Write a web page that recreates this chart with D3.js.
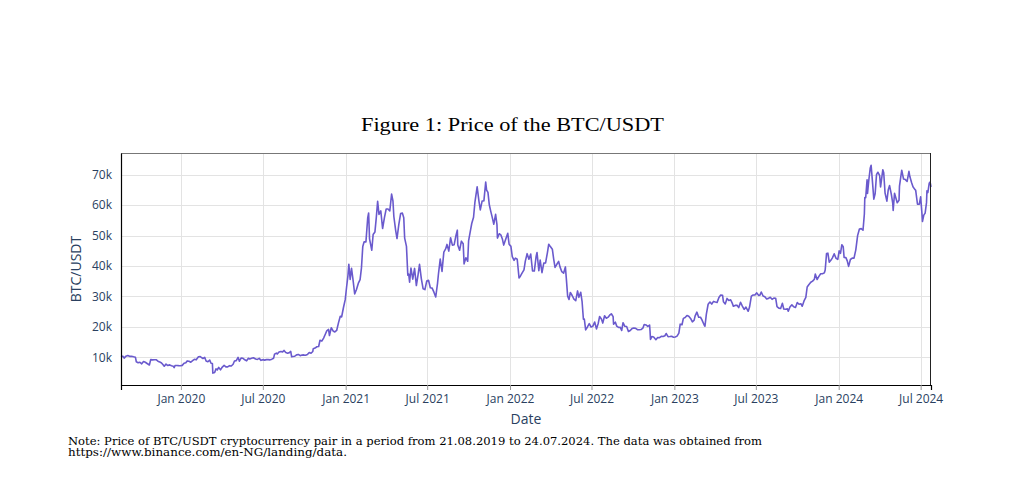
<!DOCTYPE html>
<html>
<head>
<meta charset="utf-8">
<script src="https://cdn.jsdelivr.net/npm/d3@7"></script>
<style>
  body { margin: 0; background: #fff; }
  svg { display: block; }
</style>
</head>
<body>
<svg id="chart"></svg>
<script>
var width = 1020;
var height = 500;

// dates (YYYY-MM-DD) and BTC/USDT close
var dates = [
"2019-08-21","2019-08-25","2019-08-28","2019-09-01","2019-09-05","2019-09-09","2019-09-13","2019-09-18","2019-09-22","2019-09-24",
"2019-09-28","2019-10-02","2019-10-06","2019-10-10","2019-10-14","2019-10-18","2019-10-23","2019-10-26","2019-10-30","2019-11-03",
"2019-11-07","2019-11-11","2019-11-15","2019-11-19","2019-11-22","2019-11-25","2019-11-29","2019-12-03","2019-12-07","2019-12-11",
"2019-12-15","2019-12-17","2019-12-19","2019-12-23","2019-12-27","2019-12-31","2020-01-04","2020-01-08","2020-01-12","2020-01-15",
"2020-01-19","2020-01-23","2020-01-27","2020-01-31","2020-02-04","2020-02-09","2020-02-13","2020-02-16","2020-02-19","2020-02-23",
"2020-02-26","2020-03-01","2020-03-05","2020-03-08","2020-03-11","2020-03-12","2020-03-16","2020-03-19","2020-03-22","2020-03-25",
"2020-03-29","2020-04-02","2020-04-06","2020-04-10","2020-04-14","2020-04-18","2020-04-22","2020-04-26","2020-04-29","2020-05-03",
"2020-05-07","2020-05-10","2020-05-14","2020-05-18","2020-05-22","2020-05-26","2020-05-30","2020-06-02","2020-06-06","2020-06-10",
"2020-06-15","2020-06-19","2020-06-23","2020-06-27","2020-07-01","2020-07-05","2020-07-09","2020-07-13","2020-07-17","2020-07-21",
"2020-07-25","2020-07-27","2020-07-31","2020-08-02","2020-08-06","2020-08-10","2020-08-14","2020-08-17","2020-08-21","2020-08-25",
"2020-08-29","2020-09-01","2020-09-03","2020-09-06","2020-09-10","2020-09-14","2020-09-18","2020-09-22","2020-09-26","2020-09-30",
"2020-10-04","2020-10-08","2020-10-12","2020-10-16","2020-10-20","2020-10-21","2020-10-25","2020-10-29","2020-11-02","2020-11-05",
"2020-11-09","2020-11-13","2020-11-17","2020-11-20","2020-11-24","2020-11-26","2020-11-30","2020-12-04","2020-12-08","2020-12-12",
"2020-12-16","2020-12-20","2020-12-23","2020-12-27","2020-12-31","2021-01-03","2021-01-06","2021-01-08","2021-01-11","2021-01-14",
"2021-01-17","2021-01-21","2021-01-25","2021-01-29","2021-02-02","2021-02-05","2021-02-08","2021-02-11","2021-02-15","2021-02-19",
"2021-02-21","2021-02-23","2021-02-28","2021-03-03","2021-03-07","2021-03-10","2021-03-13","2021-03-16","2021-03-20","2021-03-24",
"2021-03-28","2021-04-01","2021-04-05","2021-04-09","2021-04-13","2021-04-16","2021-04-18","2021-04-22","2021-04-25","2021-04-29",
"2021-05-03","2021-05-07","2021-05-10","2021-05-12","2021-05-16","2021-05-19","2021-05-21","2021-05-23","2021-05-26","2021-05-30",
"2021-06-03","2021-06-07","2021-06-11","2021-06-14","2021-06-18","2021-06-22","2021-06-26","2021-06-30","2021-07-04","2021-07-08",
"2021-07-12","2021-07-16","2021-07-20","2021-07-24","2021-07-26","2021-07-30","2021-08-03","2021-08-07","2021-08-11","2021-08-14",
"2021-08-18","2021-08-22","2021-08-26","2021-08-30","2021-09-03","2021-09-06","2021-09-07","2021-09-11","2021-09-15","2021-09-19",
"2021-09-21","2021-09-25","2021-09-29","2021-10-01","2021-10-05","2021-10-08","2021-10-12","2021-10-15","2021-10-20","2021-10-24",
"2021-10-27","2021-10-31","2021-11-04","2021-11-08","2021-11-10","2021-11-13","2021-11-16","2021-11-19","2021-11-22","2021-11-26",
"2021-11-30","2021-12-03","2021-12-04","2021-12-08","2021-12-12","2021-12-15","2021-12-18","2021-12-22","2021-12-27","2021-12-30",
"2022-01-03","2022-01-06","2022-01-10","2022-01-13","2022-01-17","2022-01-21","2022-01-24","2022-01-28","2022-02-01","2022-02-04",
"2022-02-08","2022-02-12","2022-02-16","2022-02-20","2022-02-24","2022-02-28","2022-03-02","2022-03-06","2022-03-09","2022-03-13",
"2022-03-17","2022-03-21","2022-03-25","2022-03-28","2022-04-01","2022-04-05","2022-04-08","2022-04-11","2022-04-15","2022-04-19",
"2022-04-22","2022-04-26","2022-04-30","2022-05-04","2022-05-06","2022-05-09","2022-05-12","2022-05-15","2022-05-19","2022-05-23",
"2022-05-27","2022-05-31","2022-06-03","2022-06-07","2022-06-10","2022-06-13","2022-06-15","2022-06-18","2022-06-22","2022-06-26",
"2022-06-30","2022-07-04","2022-07-08","2022-07-12","2022-07-16","2022-07-19","2022-07-23","2022-07-26","2022-07-30","2022-08-03",
"2022-08-07","2022-08-11","2022-08-14","2022-08-18","2022-08-19","2022-08-23","2022-08-26","2022-08-30","2022-09-03","2022-09-06",
"2022-09-09","2022-09-13","2022-09-17","2022-09-21","2022-09-25","2022-09-29","2022-10-03","2022-10-07","2022-10-11","2022-10-15",
"2022-10-19","2022-10-23","2022-10-26","2022-10-30","2022-11-03","2022-11-07","2022-11-08","2022-11-09","2022-11-12","2022-11-16",
"2022-11-21","2022-11-25","2022-11-29","2022-12-03","2022-12-07","2022-12-11","2022-12-14","2022-12-18","2022-12-22","2022-12-26",
"2022-12-30","2023-01-03","2023-01-07","2023-01-11","2023-01-14","2023-01-18","2023-01-21","2023-01-25","2023-01-29","2023-02-02",
"2023-02-06","2023-02-10","2023-02-14","2023-02-16","2023-02-20","2023-02-24","2023-02-28","2023-03-03","2023-03-09","2023-03-10",
"2023-03-13","2023-03-17","2023-03-21","2023-03-25","2023-03-29","2023-04-02","2023-04-06","2023-04-10","2023-04-14","2023-04-18",
"2023-04-20","2023-04-24","2023-04-28","2023-05-02","2023-05-06","2023-05-10","2023-05-12","2023-05-16","2023-05-20","2023-05-24",
"2023-05-28","2023-06-01","2023-06-05","2023-06-09","2023-06-14","2023-06-17","2023-06-21","2023-06-25","2023-06-29","2023-07-03",
"2023-07-07","2023-07-10","2023-07-13","2023-07-17","2023-07-21","2023-07-25","2023-07-29","2023-08-02","2023-08-06","2023-08-10",
"2023-08-14","2023-08-17","2023-08-21","2023-08-25","2023-08-29","2023-09-01","2023-09-05","2023-09-09","2023-09-11","2023-09-15",
"2023-09-19","2023-09-23","2023-09-27","2023-10-01","2023-10-05","2023-10-09","2023-10-12","2023-10-16","2023-10-20","2023-10-23",
"2023-10-27","2023-10-31","2023-11-04","2023-11-08","2023-11-10","2023-11-14","2023-11-18","2023-11-22","2023-11-26","2023-11-30",
"2023-12-02","2023-12-05","2023-12-08","2023-12-11","2023-12-15","2023-12-18","2023-12-22","2023-12-26","2023-12-30","2024-01-02",
"2024-01-05","2024-01-08","2024-01-11","2024-01-13","2024-01-17","2024-01-20","2024-01-23","2024-01-27","2024-01-31","2024-02-04",
"2024-02-08","2024-02-12","2024-02-16","2024-02-20","2024-02-24","2024-02-27","2024-02-28","2024-03-01","2024-03-04","2024-03-05",
"2024-03-08","2024-03-11","2024-03-13","2024-03-15","2024-03-19","2024-03-22","2024-03-25","2024-03-28","2024-04-01","2024-04-03",
"2024-04-08","2024-04-10","2024-04-13","2024-04-17","2024-04-20","2024-04-23","2024-04-27","2024-04-30","2024-05-01","2024-05-04",
"2024-05-07","2024-05-10","2024-05-14","2024-05-15","2024-05-20","2024-05-24","2024-05-28","2024-06-01","2024-06-05","2024-06-07",
"2024-06-11","2024-06-14","2024-06-18","2024-06-20","2024-06-24","2024-06-28","2024-07-01","2024-07-04","2024-07-05","2024-07-08",
"2024-07-11","2024-07-14","2024-07-15","2024-07-17","2024-07-20","2024-07-22","2024-07-24"
];

var prices = [
10140,10380,9720,10380,10580,10310,10360,10160,10040,8530,
8220,8380,7860,8600,8360,7960,7470,9230,9150,9200,
9200,8720,8480,8130,7600,7050,7760,7300,7510,7200,
7080,6610,7280,7320,7250,7200,7350,8050,8180,8810,
8700,8380,8900,9350,9170,10150,10240,9920,9600,9960,
8780,8530,9060,8030,7940,4800,5030,6190,5830,6690,
5880,6800,7340,6860,6850,7250,7130,7700,8780,8900,
9980,8720,9790,9670,9170,8840,9700,9460,9660,9870,
9430,9300,9630,9000,9230,9070,9240,9240,9150,9390,
9710,11030,11350,11070,11760,11880,11780,12250,11540,11360,
11530,11920,10170,10250,10350,10790,10940,10530,10720,10780,
10680,10920,11540,11320,11920,12820,13030,13460,13560,15590,
15320,16300,17660,18680,19160,17140,19700,18650,18320,18810,
21310,23480,23240,26280,28920,33000,36770,40580,35570,39200,
35830,30830,32250,34260,35510,39260,46420,47930,47910,55890,
57410,48900,45140,50350,51180,55850,61200,56900,58090,52300,
55810,58730,58730,58090,63580,61330,56250,51700,49000,53560,
57200,57350,55860,49150,46430,37000,37340,34650,39290,35660,
39190,33560,37330,40540,35840,32500,32240,35040,35290,32860,
32720,31390,29800,34290,37290,42230,38200,44560,45590,47080,
44880,49280,46850,46990,50030,51750,46870,45160,48140,47280,
40690,42700,41540,48230,51510,53950,56000,60900,65990,61300,
58420,61300,61390,67550,64940,64160,60090,58100,56300,53710,
56950,53600,49150,50580,50100,48880,46850,48600,50700,47130,
46430,43080,41860,42560,42200,36070,36650,37720,38740,41570,
44030,42200,43900,38350,38330,43160,44420,38420,41930,37780,
40920,41020,44330,47130,46280,45500,42250,39530,40550,41500,
39700,38110,37630,39690,36000,30080,28990,31300,30300,29100,
28600,31800,29700,31370,28400,22490,22580,19000,19960,21040,
19940,20220,21600,19320,21200,23390,22580,21240,23650,22840,
23180,23950,24300,23340,20830,21530,20240,19800,19830,18790,
21360,20190,20110,18480,18810,19420,19620,19530,19060,19070,
19120,19570,20770,20630,20150,20590,18540,15880,16800,16660,
15780,16510,16440,16890,16840,17090,17800,16760,16820,16910,
16600,16680,16950,17940,20880,20680,22780,23060,23740,23470,
22760,21630,22200,23520,24840,23170,23150,22360,20360,20190,
24120,27420,28170,27480,28350,28180,28030,29650,30480,30390,
28240,27510,29340,28680,28890,27620,26800,27040,27120,26330,
28080,26820,25730,26490,25120,26510,30100,30470,30450,31160,
30350,30420,31460,30140,29910,29180,29350,29710,29040,29430,
29410,26620,26130,26060,27730,25870,25780,25900,25160,26600,
27210,26580,26360,27980,27430,27590,26760,28520,29670,33090,
33910,34640,35010,35650,37320,35550,36570,37420,37450,37720,
38690,44080,44200,41240,41940,42660,43980,42520,42140,44940,
44150,46970,46340,42780,42740,41680,39870,42120,42580,42580,
45290,49960,52140,52260,51730,57060,62500,62430,68330,63800,
68300,72080,73070,69500,61930,63780,69990,70780,69650,65950,
71620,70630,63900,61280,64940,66410,63420,60610,58250,63890,
62310,60790,61550,66250,71450,68550,68370,67750,71080,69360,
67320,66010,65160,64840,60270,60320,62690,57030,54600,56700,
57340,60800,64720,64090,67160,67580,65930
];

var yTicks = [10000, 20000, 30000, 40000, 50000, 60000, 70000];
var xTickDates = ["2020-01-01","2020-07-01","2021-01-01","2021-07-01","2022-01-01","2022-07-01","2023-01-01","2023-07-01","2024-01-01","2024-07-01"];

var titleText = "Figure 1: Price of the BTC/USDT";
var xTitle = "Date";
var yTitle = "BTC/USDT";
var noteLines = [
  "Note: Price of BTC/USDT cryptocurrency pair in a period from 21.08.2019 to 24.07.2024. The data was obtained from",
  "https://www.binance.com/en-NG/landing/data."
];

var parseDate = d3.timeParse("%Y-%m-%d");
var series = dates.map(function(d, i) { return { date: parseDate(d), value: prices[i] }; });

var margin = { left: 121, right: 89, top: 153, bottom: 115 };
var plotW = width - margin.left - margin.right;
var plotH = height - margin.top - margin.bottom;

var x = d3.scaleTime()
    .domain(d3.extent(series, function(d) { return d.date; }))
    .range([0, plotW]);
var y = d3.scaleLinear()
    .domain([900, 77100])
    .range([plotH, 0]);

var svg = d3.select('#chart')
    .attr('width', width)
    .attr('height', height)
    .style('font-family', '"Open Sans", sans-serif');

var g = svg.append('g')
    .attr('transform', 'translate(' + margin.left + ',' + margin.top + ')');

// grid
g.append('g').selectAll('line.vg')
    .data(xTickDates.map(parseDate))
  .enter().append('line')
    .attr('x1', function(d) { return Math.round(x(d)) + 0.5; })
    .attr('x2', function(d) { return Math.round(x(d)) + 0.5; })
    .attr('y1', 0).attr('y2', plotH)
    .attr('stroke', '#e3e3e3').attr('stroke-width', 1);
g.append('g').selectAll('line.hg')
    .data(yTicks)
  .enter().append('line')
    .attr('x1', 0).attr('x2', plotW)
    .attr('y1', function(d) { return Math.round(y(d)) + 0.5; })
    .attr('y2', function(d) { return Math.round(y(d)) + 0.5; })
    .attr('stroke', '#e3e3e3').attr('stroke-width', 1);

// price line
var line = d3.line()
    .x(function(d) { return x(d.date); })
    .y(function(d) { return y(d.value); });
g.append('path')
    .datum(series)
    .attr('d', line)
    .attr('fill', 'none')
    .attr('stroke', '#6a5acd')
    .attr('stroke-width', 1.6)
    .attr('stroke-linejoin', 'round');

// frame
g.append('line').attr('x1', 0).attr('x2', plotW).attr('y1', 0.5).attr('y2', 0.5)
    .attr('stroke', '#777').attr('stroke-width', 1);
g.append('line').attr('x1', plotW - 0.5).attr('x2', plotW - 0.5).attr('y1', 0).attr('y2', plotH)
    .attr('stroke', '#222').attr('stroke-width', 1);

// x axis
var xAxis = d3.axisBottom(x)
    .tickValues(xTickDates.map(parseDate))
    .tickFormat(d3.timeFormat("%b %Y"))
    .tickSize(5)
    .tickPadding(4);
var gx = g.append('g')
    .attr('transform', 'translate(0,' + plotH + ')')
    .call(xAxis);
gx.select('.domain').attr('stroke', '#000').attr('stroke-width', 1.2);
gx.selectAll('.tick line').attr('stroke', '#999');
gx.selectAll('.tick text')
    .attr('fill', '#2a3f5f')
    .style('font-size', '12px')
    .style('font-family', '"Open Sans", sans-serif');

// y axis
var yAxis = d3.axisLeft(y)
    .tickValues(yTicks)
    .tickFormat(function(d) { return (d / 1000) + 'k'; })
    .tickSize(0)
    .tickPadding(9);
var gy = g.append('g').call(yAxis);
gy.select('.domain').attr('stroke', '#000').attr('stroke-width', 1.2);
gy.selectAll('.tick text')
    .attr('fill', '#2a3f5f')
    .style('font-size', '12px')
    .style('font-family', '"Open Sans", sans-serif');

// axis titles
svg.append('text')
    .attr('x', margin.left + plotW / 2)
    .attr('y', 424)
    .attr('text-anchor', 'middle')
    .attr('fill', '#2a3f5f')
    .style('font-size', '14px')
    .text(xTitle);
svg.append('text')
    .attr('transform', 'translate(81,' + (margin.top + plotH / 2) + ') rotate(-90)')
    .attr('text-anchor', 'middle')
    .attr('fill', '#2a3f5f')
    .style('font-size', '14px')
    .text(yTitle);

// title
svg.append('text')
    .attr('x', 361)
    .attr('y', 131)
    .attr('textLength', 303)
    .attr('lengthAdjust', 'spacingAndGlyphs')
    .attr('fill', '#000')
    .style('font-family', '"Liberation Serif", "DejaVu Serif", serif')
    .style('font-size', '18px')
    .text(titleText);

// note
svg.append('g').selectAll('text')
    .data(noteLines)
  .enter().append('text')
    .attr('x', 68)
    .attr('y', function(d, i) { return 444.5 + i * 11; })
    .attr('textLength', function(d, i) { return i === 0 ? 694 : 279; })
    .attr('lengthAdjust', 'spacingAndGlyphs')
    .attr('fill', '#000')
    .style('font-family', '"DejaVu Serif", serif')
    .style('font-size', '10.5px')
    .text(function(d) { return d; });
</script>
</body>
</html>
